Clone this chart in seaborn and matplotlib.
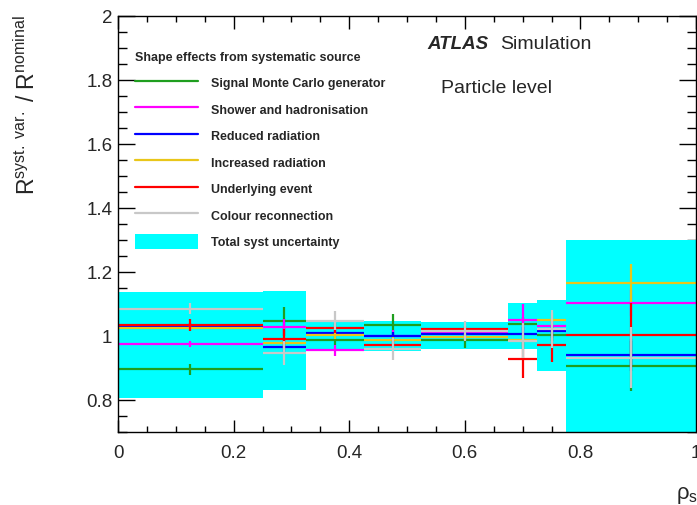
import numpy as np
import matplotlib
matplotlib.use("Agg")
import matplotlib.pyplot as plt
from matplotlib.ticker import MultipleLocator, FuncFormatter
from matplotlib.lines import Line2D
from matplotlib.patches import Patch
import seaborn as sns

# ---------------- data ----------------
bin_edges = [0.0, 0.25, 0.325, 0.425, 0.525, 0.675, 0.725, 0.775, 1.0]

band_up = [1.138, 1.141, 1.051, 1.046, 1.044, 1.103, 1.113, 1.301]
band_down = [0.806, 0.832, 0.953, 0.952, 0.960, 0.960, 0.890, 0.690]

labels = ["Signal Monte Carlo generator", "Shower and hadronisation",
          "Reduced radiation", "Increased radiation",
          "Underlying event", "Colour reconnection"]

signal_mc = [0.896, 1.046, 0.987, 1.035, 0.987, 1.038, 1.004, 0.905]
signal_mc_err = [0.017, 0.045, 0.015, 0.033, 0.025, 0.020, 0.020, 0.078]

shower = [0.975, 1.027, 0.955, 1.000, 1.010, 1.049, 1.032, 1.103]
shower_err = [0.010, 0.025, 0.017, 0.020, 0.010, 0.050, 0.020, 0.040]

reduced = [1.031, 0.966, 1.009, 1.001, 1.006, 1.007, 1.015, 0.940]
reduced_err = [0.010, 0.020, 0.010, 0.010, 0.010, 0.020, 0.020, 0.050]

increased = [1.026, 0.978, 1.002, 0.987, 0.997, 0.987, 1.051, 1.166]
increased_err = [0.010, 0.020, 0.010, 0.010, 0.010, 0.020, 0.020, 0.060]

underlying = [1.035, 0.992, 1.025, 0.973, 1.022, 0.929, 0.973, 1.002]
underlying_err = [0.018, 0.030, 0.015, 0.015, 0.010, 0.060, 0.055, 0.100]

colour_rec = [1.085, 0.947, 1.048, 0.960, 1.016, 0.985, 1.022, 0.932]
colour_rec_err = [0.017, 0.037, 0.030, 0.035, 0.032, 0.055, 0.060, 0.095]

series = [signal_mc, shower, reduced, increased, underlying, colour_rec]
series_err = [signal_mc_err, shower_err, reduced_err, increased_err,
              underlying_err, colour_rec_err]
colors = ["#1f9e1f", "#ff00ff", "#0000ff", "#e9c61a", "#ff0000", "#c8c8c8"]
band_color = "#00ffff"

# ---------------- style ----------------
sns.set_theme(style="ticks")
plt.rcParams["font.family"] = ["Liberation Sans", "DejaVu Sans"]
plt.rcParams["mathtext.fontset"] = "custom"
plt.rcParams["mathtext.rm"] = "Liberation Sans"
plt.rcParams["mathtext.it"] = "Liberation Sans:italic"

fig = plt.figure(figsize=(6.97, 5.06), dpi=100)
ax = fig.add_axes([118 / 697, 1 - 433 / 506, (696 - 118) / 697, (433 - 17) / 506])

edges = np.array(bin_edges)
left = edges[:-1]
widths = np.diff(edges)
centers = left + widths / 2
up = np.array(band_up)
down = np.array(band_down)

ax.bar(left, up - down, bottom=down, width=widths, align="edge",
       color=band_color, linewidth=0, zorder=1)

for vals, errs, col in zip(series, series_err, colors):
    ax.errorbar(centers, vals, xerr=widths / 2, yerr=errs, fmt="none",
                ecolor=col, elinewidth=1.6, capsize=0, zorder=2)

ax.set_xlim(0, 1)
ax.set_ylim(0.7, 2.0)

ax.xaxis.set_major_locator(MultipleLocator(0.2))
ax.xaxis.set_minor_locator(MultipleLocator(0.05))
ax.yaxis.set_major_locator(MultipleLocator(0.2))
ax.yaxis.set_minor_locator(MultipleLocator(0.05))
fmt = FuncFormatter(lambda v, p: f"{v:g}")
ax.xaxis.set_major_formatter(fmt)
ax.yaxis.set_major_formatter(fmt)

ax.tick_params(axis="both", which="both", direction="in", top=True, right=True,
               color="black", width=1.0)
ax.tick_params(axis="x", which="major", length=9, pad=8.5, labelsize=13.5)
ax.tick_params(axis="x", which="minor", length=4.5)
ax.tick_params(axis="y", which="major", length=12.5, pad=4, labelsize=13.5)
ax.tick_params(axis="y", which="minor", length=6.5)
for s in ax.spines.values():
    s.set_linewidth(1.0)
    s.set_color("black")
    s.set_visible(True)
ax.set_facecolor("white")

fig.text(0.039, 1 - 15 / 506,
         r"R$^{\mathregular{syst.\ var.}}$ / R$^{\mathregular{nominal}}$",
         rotation=90, ha="center", va="top", fontsize=16.5)
fig.text(676 / 697, 1 - 499 / 506, r"ρ$_{\mathregular{s}}$",
         ha="left", va="baseline", fontsize=16)

ax.text(0.535, 0.935, "ATLAS", transform=ax.transAxes, fontsize=13.5,
        fontweight="bold", fontstyle="italic", va="center", ha="left")
ax.text(0.661, 0.935, "Simulation", transform=ax.transAxes, fontsize=14,
        va="center", ha="left")
ax.text(0.559, 0.827, "Particle level", transform=ax.transAxes, fontsize=14,
        va="center", ha="left")

handles = [Line2D([0], [0], color=c, lw=1.6) for c in colors]
handles.append(Patch(facecolor=band_color, edgecolor="none"))
leg = ax.legend(handles, labels + ["Total syst uncertainty"],
                loc="upper left",
                bbox_to_anchor=((135 - 118) / 578, (433 - 52.5) / 416),
                frameon=False, prop={"weight": "bold", "size": 9},
                title="Shape effects from systematic source",
                title_fontproperties={"weight": "bold", "size": 9},
                alignment="left", handlelength=5.0, handleheight=1.5,
                handletextpad=1.1, labelspacing=0.9, borderpad=0,
                borderaxespad=0)

fig.savefig("out.png", dpi=100)
